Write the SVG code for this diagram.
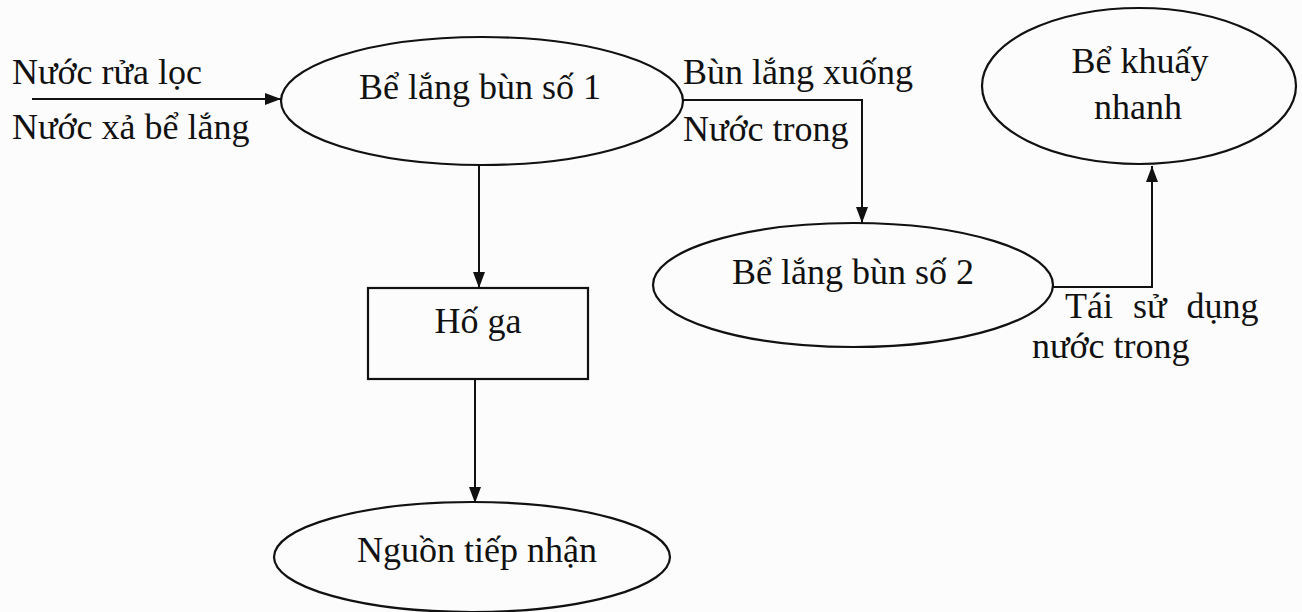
<svg xmlns="http://www.w3.org/2000/svg" width="1302" height="612" viewBox="0 0 1302 612">
<style>
.n{fill:none;stroke:#111;stroke-width:2.2}
.c{fill:none;stroke:#111;stroke-width:2}
text{font-family:"Liberation Serif","Times New Roman",serif;font-size:36px;fill:#111}
.m{text-anchor:middle}
</style>
<defs>
<marker id="ah" viewBox="0 0 16 12" refX="16" refY="6" markerWidth="16" markerHeight="12" markerUnits="userSpaceOnUse" orient="auto">
<path d="M0,0 L16,6 L0,12 Z" fill="#111"/>
</marker>
</defs>
<rect width="1302" height="612" fill="#fcfcfc"/>
<g id="connectors">
<line class="c" x1="32" y1="99" x2="281" y2="99" marker-end="url(#ah)"/>
<polyline class="c" points="683,100 862,100 862,223" marker-end="url(#ah)"/>
<polyline class="c" points="1053,287 1152,287 1152,166" marker-end="url(#ah)"/>
<line class="c" x1="479" y1="165" x2="479" y2="288" marker-end="url(#ah)"/>
<line class="c" x1="475" y1="379" x2="475" y2="503" marker-end="url(#ah)"/>
</g>
<g id="labels">
<text x="12" y="84">Nước rửa lọc</text>
<text x="12" y="139">Nước xả bể lắng</text>
<text x="683" y="84">Bùn lắng xuống</text>
<text x="683" y="141">Nước trong</text>
<text x="1065" y="318" word-spacing="11">Tái sử dụng</text>
<text x="1032" y="358">nước trong</text>
</g>
<g id="be-lang-1">
<ellipse class="n" cx="482" cy="101" rx="201" ry="64"/>
<text class="m" x="480" y="99">Bể lắng bùn số 1</text>
</g>
<g id="be-lang-2">
<ellipse class="n" cx="853" cy="285" rx="200" ry="62"/>
<text class="m" x="853" y="284">Bể lắng bùn số 2</text>
</g>
<g id="be-khuay">
<ellipse class="n" cx="1139" cy="86" rx="157" ry="78"/>
<text class="m" x="1140" y="73">Bể khuấy</text>
<text class="m" x="1138" y="119">nhanh</text>
</g>
<g id="ho-ga">
<rect class="n" x="368" y="288" width="220" height="91"/>
<text class="m" x="478" y="333">Hố ga</text>
</g>
<g id="nguon">
<ellipse class="n" cx="472" cy="557" rx="198" ry="55"/>
<text class="m" x="477" y="562">Nguồn tiếp nhận</text>
</g>
</svg>
